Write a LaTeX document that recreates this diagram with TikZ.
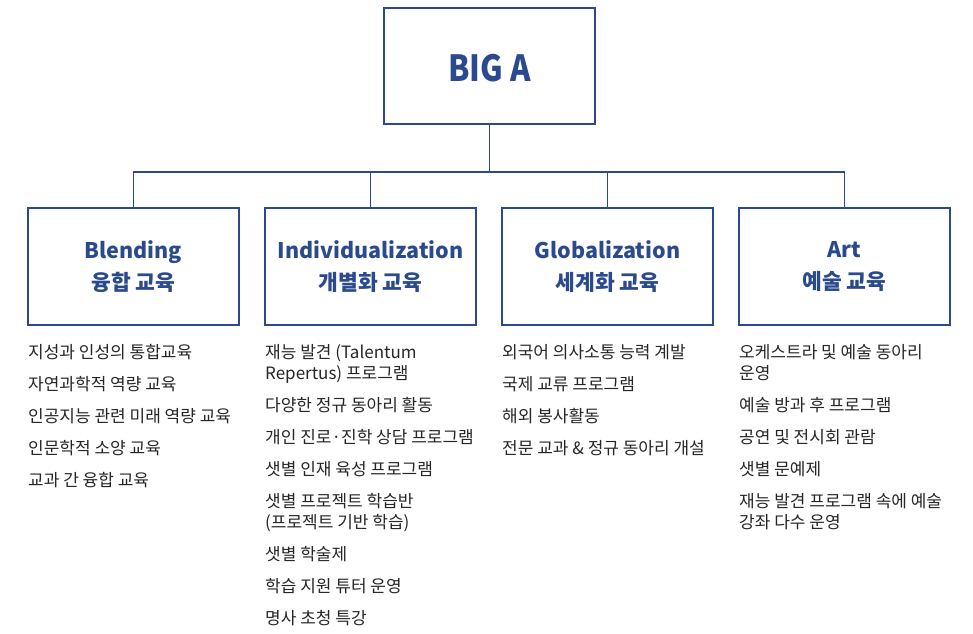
\documentclass[tikz,border=0pt]{standalone}
\usepackage{fontspec}
\setmainfont{Noto Sans CJK KR}
\definecolor{bigblue}{HTML}{2B4A8E}
\definecolor{itemgray}{HTML}{262626}

\begin{document}
\begin{tikzpicture}[x=1pt, y=-1pt,
    box/.style={draw=bigblue, line width=1.1pt, minimum width=211pt, minimum height=117pt, inner sep=0pt},
    head/.style={text=bigblue, font=\fontsize{21.5}{32}\selectfont\bfseries, align=center},
    item/.style={anchor=base west, text=itemgray, font=\fontsize{17}{21}\selectfont, align=left, inner sep=0pt},
    link/.style={draw=bigblue, line width=1.1pt}]
  \useasboundingbox (0,0) rectangle (973,633);

  % top
  \node[box, minimum height=116pt] (bigA) at (489.5,66) {};
  \node[text=bigblue, font=\fontsize{36}{36}\selectfont\bfseries] (bigAtxt) at (489.5,68) {\scalebox{0.86}[1]{BIG A}};
  \coordinate (split) at (489.5,172);

  % columns
  \node[box] (blend) at (133.5,266.5) {};
  \node[box] (indiv) at (370.5,266.5) {};
  \node[box] (glob) at (607.5,266.5) {};
  \node[box] (art) at (844.5,266.5) {};
  \node[head] at (blend) {Blending\\융합 교육};
  \node[head] at (indiv) {Individualization\\개별화 교육};
  \node[head] at (glob) {Globalization\\세계화 교육};
  \node[head] at (art) {Art\\예술 교육};

  \draw[link] (bigA.south) -- (split);
  \draw[link] (blend.north) |- (split) -| (art.north);
  \draw[link] (indiv.north) -- (indiv.north |- split);
  \draw[link] (glob.north) -- (glob.north |- split);

  % lists (base = last line)
  \node[item] (b1) at (28,358) {지성과 인성의 통합교육};
  \node[item] (b2) at (28,390) {자연과학적 역량 교육};
  \node[item] (b3) at (28,422) {인공지능 관련 미래 역량 교육};
  \node[item] (b4) at (28,454) {인문학적 소양 교육};
  \node[item] (b5) at (28,486) {교과 간 융합 교육};

  \node[item] (i1) at (265,379) {재능 발견 (Talentum\\Repertus) 프로그램};
  \node[item] (i2) at (265,411) {다양한 정규 동아리 활동};
  \node[item] (i3) at (265,443) {개인 진로·진학 상담 프로그램};
  \node[item] (i4) at (265,475) {샛별 인재 육성 프로그램};
  \node[item] (i5) at (265,528) {샛별 프로젝트 학습반\\(프로젝트 기반 학습)};
  \node[item] (i6) at (265,560) {샛별 학술제};
  \node[item] (i7) at (265,592) {학습 지원 튜터 운영};
  \node[item] (i8) at (265,624) {명사 초청 특강};

  \node[item] (g1) at (502,358) {외국어 의사소통 능력 계발};
  \node[item] (g2) at (502,390) {국제 교류 프로그램};
  \node[item] (g3) at (502,422) {해외 봉사활동};
  \node[item] (g4) at (502,454) {전문 교과 \& 정규 동아리 개설};

  \node[item] (a1) at (739,379) {오케스트라 및 예술 동아리\\운영};
  \node[item] (a2) at (739,411) {예술 방과 후 프로그램};
  \node[item] (a3) at (739,443) {공연 및 전시회 관람};
  \node[item] (a4) at (739,475) {샛별 문예제};
  \node[item] (a5) at (739,528) {재능 발견 프로그램 속에 예술\\강좌 다수 운영};
\end{tikzpicture}
\end{document}
